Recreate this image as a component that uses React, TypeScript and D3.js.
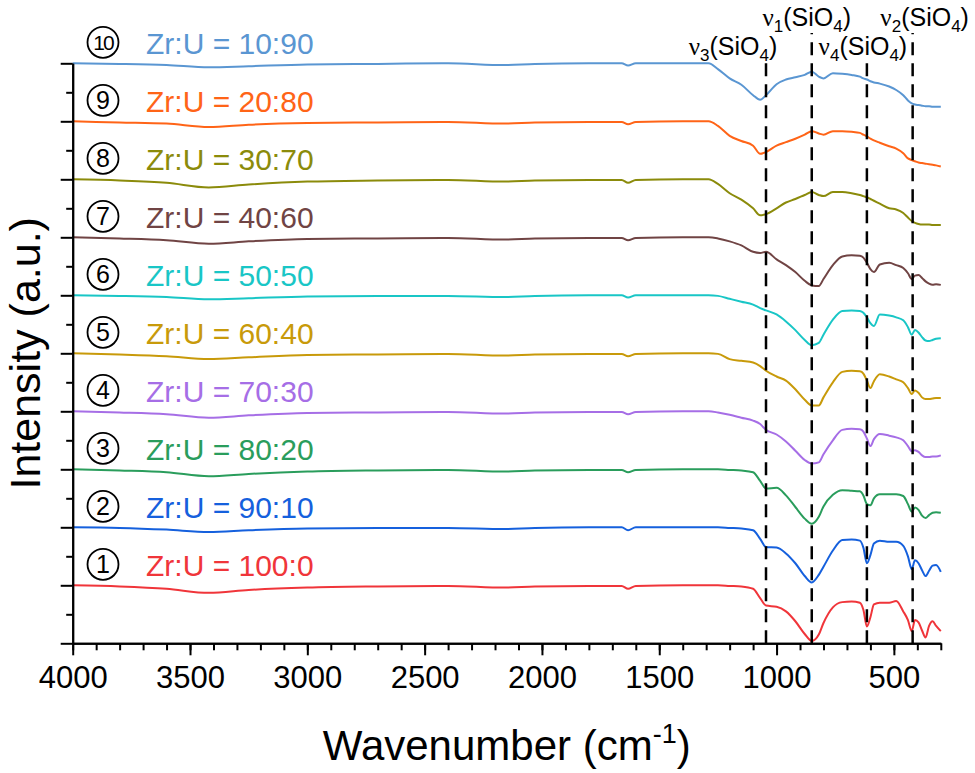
import React, { FC, useEffect, useRef } from 'react'
import * as d3 from 'd3'

// wavenumber grid (cm-1), shared by all spectra
const wavenumbers = [
	4000, 3800, 3600, 3420, 3250, 3000, 2700, 2400, 2160, 2030, 1800, 1660, 1633, 1600, 1400,
	1290, 1250, 1200, 1150, 1100, 1070, 1045, 1000, 960, 920, 880, 850, 820, 800, 760, 720, 680,
	645, 630, 615, 600, 585, 560, 520, 490, 460, 440, 424, 410, 395, 380, 365, 350, 335, 320, 300
]

// intensity relative to each spectrum's own baseline (a.u.)
const zr100 = [
	0, -0.02, -0.06, -0.13, -0.08, -0.04, -0.02, -0.01, -0.04, -0.02, -0.01, -0.01, -0.06, -0.01, 0,
	0, 0, -0.01, -0.02, -0.06, -0.22, -0.35, -0.37, -0.45, -0.62, -0.84, -0.96, -0.85, -0.65, -0.38,
	-0.29, -0.28, -0.3, -0.42, -0.71, -0.55, -0.33, -0.3, -0.3, -0.27, -0.45, -0.6, -0.79, -0.6, -0.64,
	-0.78, -0.9, -0.7, -0.62, -0.7, -0.79
]
const zr90 = [
	0, -0.01, -0.04, -0.08, -0.05, -0.02, -0.01, -0.01, -0.03, -0.01, 0, 0, -0.05, 0, 0,
	0, 0, -0.01, -0.02, -0.05, -0.2, -0.34, -0.35, -0.45, -0.62, -0.84, -0.95, -0.82, -0.68, -0.4,
	-0.22, -0.21, -0.23, -0.35, -0.62, -0.48, -0.28, -0.23, -0.25, -0.25, -0.32, -0.5, -0.72, -0.57,
	-0.62, -0.74, -0.84, -0.75, -0.66, -0.65, -0.77
]
const zr80 = [
	0, -0.02, -0.05, -0.12, -0.08, -0.04, -0.02, -0.01, -0.04, -0.02, -0.01, -0.01, -0.05, -0.01, 0,
	0, 0, -0.01, -0.02, -0.05, -0.2, -0.33, -0.32, -0.45, -0.65, -0.85, -0.94, -0.82, -0.64, -0.44,
	-0.36, -0.37, -0.38, -0.45, -0.6, -0.62, -0.5, -0.43, -0.43, -0.43, -0.46, -0.6, -0.73, -0.66,
	-0.7, -0.8, -0.84, -0.79, -0.75, -0.74, -0.75
]
const zr70 = [
	0, -0.02, -0.05, -0.11, -0.07, -0.03, -0.02, -0.01, -0.04, -0.02, -0.01, -0.01, -0.05, -0.01, 0,
	0, -0.02, -0.06, -0.11, -0.16, -0.22, -0.32, -0.4, -0.52, -0.68, -0.84, -0.9, -0.88, -0.74, -0.5,
	-0.32, -0.3, -0.31, -0.35, -0.47, -0.6, -0.48, -0.39, -0.42, -0.45, -0.5, -0.6, -0.69, -0.67,
	-0.7, -0.76, -0.79, -0.79, -0.78, -0.78, -0.76
]
const zr60 = [
	0, -0.02, -0.05, -0.1, -0.07, -0.03, -0.02, -0.01, -0.04, -0.02, -0.01, -0.01, -0.05, -0.01, 0,
	0, -0.01, -0.1, -0.13, -0.16, -0.22, -0.3, -0.4, -0.47, -0.62, -0.8, -0.9, -0.9, -0.76, -0.5,
	-0.32, -0.3, -0.31, -0.35, -0.47, -0.6, -0.48, -0.36, -0.4, -0.45, -0.5, -0.6, -0.7, -0.64,
	-0.68, -0.76, -0.79, -0.79, -0.78, -0.77, -0.77
]
const zr50 = [
	0, -0.01, -0.03, -0.07, -0.05, -0.02, -0.01, -0.01, -0.03, -0.01, 0, 0, -0.04, 0, 0,
	0, -0.01, -0.06, -0.11, -0.16, -0.22, -0.26, -0.33, -0.45, -0.6, -0.77, -0.86, -0.82, -0.68, -0.42,
	-0.27, -0.26, -0.27, -0.3, -0.38, -0.48, -0.53, -0.33, -0.35, -0.38, -0.43, -0.55, -0.68, -0.6,
	-0.64, -0.72, -0.78, -0.79, -0.77, -0.75, -0.74
]
const zr40 = [
	0, -0.02, -0.05, -0.11, -0.07, -0.03, -0.02, -0.01, -0.04, -0.02, -0.01, -0.01, -0.05, -0.01, 0,
	0, -0.02, -0.07, -0.14, -0.25, -0.27, -0.25, -0.38, -0.48, -0.6, -0.75, -0.83, -0.84, -0.72, -0.48,
	-0.33, -0.31, -0.32, -0.35, -0.44, -0.55, -0.6, -0.47, -0.44, -0.48, -0.53, -0.62, -0.72, -0.66,
	-0.65, -0.7, -0.76, -0.8, -0.82, -0.81, -0.82
]
const zr30 = [
	0, -0.02, -0.06, -0.14, -0.09, -0.04, -0.02, -0.01, -0.04, -0.02, -0.01, -0.01, -0.06, -0.01, 0,
	0, -0.08, -0.24, -0.35, -0.5, -0.62, -0.6, -0.5, -0.4, -0.34, -0.27, -0.22, -0.27, -0.29, -0.22,
	-0.22, -0.24, -0.27, -0.29, -0.31, -0.34, -0.37, -0.42, -0.5, -0.52, -0.58, -0.66, -0.72, -0.75,
	-0.77, -0.78, -0.78, -0.78, -0.79, -0.79, -0.79
]
const zr20 = [
	0, -0.02, -0.04, -0.1, -0.06, -0.03, -0.02, -0.01, -0.04, -0.02, -0.01, -0.01, -0.05, -0.01, 0,
	0, -0.08, -0.25, -0.34, -0.42, -0.56, -0.53, -0.42, -0.36, -0.3, -0.23, -0.17, -0.21, -0.23, -0.17,
	-0.17, -0.18, -0.2, -0.23, -0.26, -0.3, -0.33, -0.37, -0.43, -0.47, -0.55, -0.64, -0.67, -0.69,
	-0.71, -0.72, -0.73, -0.74, -0.75, -0.76, -0.78
]
const zr10 = [
	0, -0.01, -0.03, -0.07, -0.05, -0.02, -0.01, 0, -0.03, -0.01, 0, 0, -0.04, 0, 0,
	0, -0.1, -0.26, -0.37, -0.55, -0.63, -0.55, -0.36, -0.28, -0.24, -0.2, -0.145, -0.23, -0.26, -0.17,
	-0.18, -0.2, -0.23, -0.26, -0.28, -0.31, -0.33, -0.35, -0.4, -0.46, -0.55, -0.64, -0.69, -0.71,
	-0.72, -0.73, -0.74, -0.74, -0.75, -0.75, -0.75
]

const spectra = [zr100, zr90, zr80, zr70, zr60, zr50, zr40, zr30, zr20, zr10]
const sampleLabels = [
	'Zr:U = 100:0', 'Zr:U = 90:10', 'Zr:U = 80:20', 'Zr:U = 70:30', 'Zr:U = 60:40',
	'Zr:U = 50:50', 'Zr:U = 40:60', 'Zr:U = 30:70', 'Zr:U = 20:80', 'Zr:U = 10:90'
]
const sampleNumbers = ['1', '2', '3', '4', '5', '6', '7', '8', '9', '10']
const colors = [
	'#f0353a', '#1560dd', '#2a9d5c', '#a66ee6', '#c89a0a',
	'#19c6c6', '#704444', '#8b8b0b', '#ff6417', '#5a96d2'
]

// SiO4 vibration bands
const bandPositions = [1045, 850, 615, 420]
const bandModes = ['3', '1', '4', '2']

const xMajorTicks = [4000, 3500, 3000, 2500, 2000, 1500, 1000, 500]

const W = 975
const H = 773
const X0 = 72.7
const X1 = 940.8
const Y0 = 643.3
const Y1 = 63.3
const FONT = '"Liberation Sans", Arial, sans-serif'

// label layout for the band captions
const bandLabelDx = [-33, -5, -4, 12]
const bandLabelRow = [1, 0, 1, 0]

const App: FC = () => {
	const xAxisRef = useRef<SVGGElement>(null)
	const xMinorRef = useRef<SVGGElement>(null)
	const yAxisRef = useRef<SVGGElement>(null)
	const yMinorRef = useRef<SVGGElement>(null)

	const x = d3.scaleLinear().domain([4000, 300]).range([X0, X1])
	const y = d3.scaleLinear().domain([0, 10]).range([Y0, Y1])

	useEffect(() => {
		if (xMinorRef.current) {
			const minor = d3.range(4000, 299, -100)
			d3.select(xMinorRef.current)
				.call(d3.axisBottom(x).tickValues(minor).tickSize(7).tickSizeOuter(0).tickFormat(() => ''))
		}
		if (xAxisRef.current) {
			d3.select(xAxisRef.current)
				.call(
					d3.axisBottom(x).tickValues(xMajorTicks).tickSize(12).tickSizeOuter(0).tickPadding(11).tickFormat(d3.format('d'))
				)
		}
		if (yMinorRef.current) {
			d3.select(yMinorRef.current)
				.call(d3.axisLeft(y).tickValues(d3.range(0.5, 10, 1)).tickSize(6.5).tickSizeOuter(0).tickFormat(() => ''))
		}
		if (yAxisRef.current) {
			d3.select(yAxisRef.current)
				.call(d3.axisLeft(y).tickValues(d3.range(0, 11, 1)).tickSize(12).tickSizeOuter(0).tickFormat(() => ''))
		}
		const all = d3.selectAll('.axis')
		all.selectAll('path.domain').attr('stroke', '#000').attr('stroke-width', 2)
		all.selectAll('.tick line').attr('stroke', '#000').attr('stroke-width', 2)
		all.selectAll('.tick text')
			.attr('font-family', FONT)
			.attr('font-size', 31)
			.attr('fill', '#000')
	}, [])

	const line = (vals: number[], offset: number) =>
		d3
			.line<number>()
			.x((_, i) => x(wavenumbers[i]))
			.y((v) => y(v + offset))
			.curve(d3.curveMonotoneX)(vals) || ''

	return (
		<svg
			width={W}
			height={H}
			style={{ position: 'absolute', left: 0, top: 0, background: '#fff' }}
			fontFamily={FONT}
		>
			{/* spectra */}
			<g fill="none" strokeWidth={2} strokeLinejoin="round">
				{spectra.map((s, i) => (
					<path key={i} d={line(s, i + 1)} stroke={colors[i]} />
				))}
			</g>

			{/* sample labels */}
			{spectra.map((_, i) => {
				const base = y(i + 1)
				const two = sampleNumbers[i].length > 1
				return (
					<g key={i}>
						<circle cx={103} cy={base - 21} r={15.5} fill="none" stroke="#000" strokeWidth={1.8} />
						<text
							x={103}
							y={base - 21}
							textAnchor="middle"
							dominantBaseline="central"
							fontSize={two ? 21 : 25}
							letterSpacing={two ? -2 : 0}
							fill="#000"
						>
							{sampleNumbers[i]}
						</text>
						<text x={146} y={base - 9} fontSize={30} fill={colors[i]}>
							{sampleLabels[i]}
						</text>
					</g>
				)
			})}

			{/* band markers */}
			<g>
				{bandPositions.map((b, i) => (
					<line
						key={i}
						x1={x(b)}
						x2={x(b)}
						y1={Y0}
						y2={bandLabelRow[i] === 0 ? 33 : 63}
						stroke="#000"
						strokeWidth={2.5}
						strokeDasharray="13 8"
					/>
				))}
				{bandPositions.map((b, i) => (
					<text
						key={i}
						x={x(b) + bandLabelDx[i]}
						y={bandLabelRow[i] === 0 ? 26 : 55}
						textAnchor="middle"
						fontSize={25}
						fill="#000"
					>
						<tspan fontFamily='"Liberation Serif", serif'>ν</tspan>
						<tspan fontSize={17} dy={6}>{bandModes[i]}</tspan>
						<tspan dy={-6}>(SiO</tspan>
						<tspan fontSize={17} dy={6}>4</tspan>
						<tspan dy={-6}>)</tspan>
					</text>
				))}
			</g>

			{/* axes */}
			<g className="axis" ref={xMinorRef} transform={`translate(0, ${Y0})`} />
			<g className="axis" ref={xAxisRef} transform={`translate(0, ${Y0})`} />
			<g className="axis" ref={yMinorRef} transform={`translate(${X0}, 0)`} />
			<g className="axis" ref={yAxisRef} transform={`translate(${X0}, 0)`} />

			{/* axis titles */}
			<text x={(X0 + X1) / 2} y={760} textAnchor="middle" fontSize={42} fill="#000">
				Wavenumber (cm
				<tspan fontSize={27} dy={-17}>-1</tspan>
				<tspan dy={17}>)</tspan>
			</text>
			<text
				transform={`translate(40, ${(Y0 + Y1) / 2}) rotate(-90)`}
				textAnchor="middle"
				fontSize={43}
				fill="#000"
			>
				Intensity (a.u.)
			</text>
		</svg>
	)
}

export default App
